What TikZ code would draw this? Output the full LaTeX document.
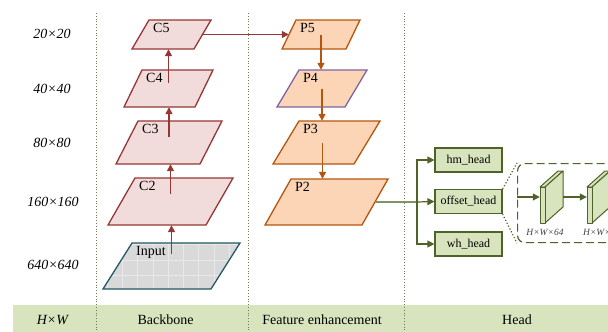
\documentclass[tikz,border=0pt]{standalone}
\usepackage{fontspec}
\setmainfont{Liberation Serif}
\usepackage{xcolor}
\usepackage{tikz}
\usetikzlibrary{arrows.meta,positioning,calc}

\definecolor{bbred}{HTML}{953735}
\definecolor{bbpink}{HTML}{F2DCDB}
\definecolor{inteal}{HTML}{215968}
\definecolor{ingray}{HTML}{D9D9D9}
\definecolor{ingrid}{HTML}{E9E9E9}
\definecolor{febrown}{HTML}{B4560F}
\definecolor{fepeach}{HTML}{FBD5B5}
\definecolor{fepurple}{HTML}{8064A2}
\definecolor{bandgreen}{HTML}{D7E4BD}
\definecolor{hdgreen}{HTML}{4F6228}
\definecolor{hdlight}{HTML}{7F9466}
\definecolor{sepgray}{HTML}{6F7A55}

\tikzset{
  dsep/.style={dotted, line width=0.8pt, draw=sepgray},
  dband/.style={fill=bandgreen, draw=none},
  dscale/.style={font=\fontsize{14}{16}\selectfont\itshape},
  dstage/.style={font=\fontsize{14}{16}\selectfont},
  dlabel/.style={anchor=north west, inner sep=1pt, font=\fontsize{14}{16}\selectfont},
  dcfeat/.style={draw=bbred, fill=bbpink, line width=1.3pt},
  dpfeat/.style={draw=febrown, fill=fepeach, line width=1.3pt},
  dinput/.style={draw=inteal, fill=ingray, line width=1.3pt,
    path picture={\draw[ingrid, line width=1pt]
      (path picture bounding box.south west) grid[step=15.3pt] (path picture bounding box.north east);}},
  dhead/.style={draw=hdgreen, fill=bandgreen, line width=1.2pt, minimum width=67pt, minimum height=24pt,
    inner sep=0pt, font=\fontsize{12}{14}\selectfont},
  dzoom/.style={draw=hdgreen, dash pattern=on 8pt off 4pt, line width=1.2pt, rounded corners=7pt,
    anchor=north west, inner sep=0pt},
  dslab/.style={draw=hdgreen, fill=bandgreen, line width=1pt, line join=round},
  ddim/.style={font=\fontsize{9.5}{11}\selectfont\itshape, text=black!75, inner sep=1pt},
  carrow/.style={-{Triangle[length=7pt,width=7pt]}, line width=1.4pt, draw=bbred},
  parrow/.style={-{Triangle[length=7pt,width=7pt]}, line width=1.4pt, draw=febrown},
  harrow/.style={-{Triangle[length=7pt,width=7pt]}, line width=1.2pt, draw=hdgreen},
  dfeed/.style={line width=1.4pt, draw=hdlight},
  dlink/.style={dotted, line width=1.2pt, draw=hdgreen}
}

% style, name, left x, bottom y, top y, width, skew, text
\newcommand{\featlayer}[8]{%
  \draw[#1] (#3,#4) -- ++(#6,0) -- ++(#7,{#5-#4}) -- ++(-#6,0) -- cycle;
  \node[inner sep=0pt, minimum width={#6*1pt}, minimum height={(#4-#5)*1pt}] (#2) at ({#3+(#6+#7)/2},{(#4+#5)/2}) {};
  \node[dlabel] (#2-text) at ({#3+#7+3},{#5+2}) {#8};
}

% name, left x, top y of the front face
\newcommand{\slab}[3]{%
  \draw[dslab] (#2,#3) -- ++(18,-16) -- ++(5,0) -- ++(-18,16) -- cycle;
  \draw[dslab] ({#2+5},#3) -- ++(18,-16) -- ++(0,36) -- ++(-18,16) -- cycle;
  \draw[dslab] (#2,#3) rectangle ++(5,36);
  \node[inner sep=0pt, minimum width=23pt, minimum height=52pt] (#1) at ({#2+11.5},{#3+10}) {};
}

\begin{document}
\begin{tikzpicture}[x=1pt,y=-1pt]
\useasboundingbox (0,0) rectangle (608,332);

\fill[dband] (13,305) rectangle (608,332);
\draw[dsep] (96,13) -- (96,332);
\draw[dsep] (248,13) -- (248,332);
\draw[dsep] (404,13) -- (404,332);

\node[dscale] (s20) at (52,34) {20×20};
\node[dscale] (s40) at (52,88.5) {40×40};
\node[dscale] (s80) at (52,143) {80×80};
\node[dscale] (s160) at (53,202) {160×160};
\node[dscale] (s640) at (53,265) {640×640};
\node[dscale] (hw) at (52.5,320) {H×W};
\node[dstage] (backbone) at (165.5,320) {Backbone};
\node[dstage] (enhance) at (322,320) {Feature enhancement};
\node[dstage] (headlab) at (517,320) {Head};

\featlayer{dinput}{input}{103}{289}{243}{108}{29}{Input}
\featlayer{dcfeat}{c2}{108}{225}{178}{98}{27}{C2}
\featlayer{dcfeat}{c3}{116}{164}{121}{84}{22}{C3}
\featlayer{dcfeat}{c4}{124}{107}{70}{71}{18}{C4}
\featlayer{dcfeat}{c5}{132}{49}{20}{62}{17}{C5}

\featlayer{dpfeat}{p5}{282}{49}{20}{64}{14}{P5}
\featlayer{dpfeat, draw=fepurple}{p4}{277}{107}{70}{68}{22}{P4}
\featlayer{dpfeat}{p3}{273}{164}{121}{81}{26}{P3}
\featlayer{dpfeat}{p2}{265}{225}{179}{97}{26}{P2}

\draw[carrow] ([yshift=12pt]input.center) -- (input.center |- c2.south);
\draw[carrow] ([yshift=8pt]c2.center) -- (c2.center |- c3.south);
\draw[carrow] ([yshift=6pt]c3.center) -- (c3.center |- c4.south);
\draw[carrow] ([yshift=6pt]c4.center) -- (c4.center |- c5.south);
\draw[carrow] (c5.east) -- (p5.west);

\draw[parrow] (p5.center) -- (p5.center |- p4.north);
\draw[parrow] (p4.center) -- (p4.center |- p3.north);
\draw[parrow] ([xshift=-4pt]p3.center) -- ([xshift=-4pt]p3.center |- p2.north);

\node[dhead] (hm) at (468.5,160) {hm\_head};
\node[dhead] (offset) at (468.5,201.5) {offset\_head};
\node[dhead] (wh) at (468.5,244) {wh\_head};

\coordinate (split) at (417,202);
\draw[dfeed] (p2.east) -- (split);
\draw[harrow] (split) -- (offset.west);
\draw[harrow] (split) |- (hm.west);
\draw[harrow] (split) |- (wh.west);

\node[dzoom, minimum width=130pt, minimum height=79pt] (zoom) at (517,163) {};
\draw[dlink] (offset.north east) -- (zoom.north west);
\draw[dlink] (offset.south east) -- (zoom.south west);

\slab{s1}{540}{187}
\slab{s2}{587}{187}
\draw[harrow] (zoom.west |- s1.west) -- (s1.west);
\draw[harrow] (s1.east) -- (s2.west);
\node[ddim] (d1) at (545,232) {H×W×64};
\node[ddim, anchor=west] (d2) at (582,232) {H×W×2};
\end{tikzpicture}
\end{document}
